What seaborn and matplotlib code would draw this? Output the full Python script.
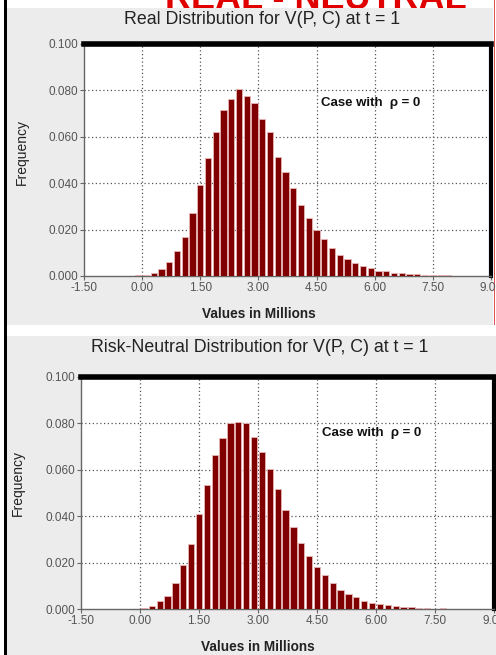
import matplotlib
matplotlib.use("Agg")
import matplotlib.pyplot as plt
from matplotlib.patches import Rectangle
import seaborn as sns
import pandas as pd

# ---- data (values in millions, bin centres 0.2 wide) ----
bin_centers = [-0.1, 0.1, 0.3, 0.5, 0.7, 0.9, 1.1, 1.3, 1.5, 1.7, 1.9, 2.1, 2.3, 2.5,
               2.7, 2.9, 3.1, 3.3, 3.5, 3.7, 3.9, 4.1, 4.3, 4.5, 4.7, 4.9, 5.1, 5.3,
               5.5, 5.7, 5.9, 6.1, 6.3, 6.5, 6.7, 6.9, 7.1, 7.3, 7.5, 7.7, 7.9]

real_freq = [0.0003, 0.0006, 0.0013, 0.0030, 0.0062, 0.0107, 0.0170, 0.0270, 0.0392,
             0.0510, 0.0622, 0.0715, 0.0762, 0.0805, 0.0776, 0.0744, 0.0678, 0.0620,
             0.0515, 0.0447, 0.0380, 0.0306, 0.0248, 0.0200, 0.0161, 0.0119, 0.0090,
             0.0072, 0.0056, 0.0041, 0.0033, 0.0023, 0.0022, 0.0012, 0.0011, 0.0009,
             0.0008, 0.0006, 0.0006, 0.0005, 0.0004]

neutral_freq = [0.0003, 0.0004, 0.0016, 0.0034, 0.0058, 0.0112, 0.0190, 0.0282, 0.0410,
                0.0535, 0.0665, 0.0735, 0.0800, 0.0806, 0.0800, 0.0742, 0.0676, 0.0603,
                0.0516, 0.0427, 0.0355, 0.0287, 0.0229, 0.0180, 0.0148, 0.0112, 0.0083,
                0.0066, 0.0052, 0.0037, 0.0028, 0.0024, 0.0019, 0.0013, 0.0010, 0.0009,
                0.0006, 0.0005, 0.0000, 0.0004, 0.0000]

x_ticks = [-1.5, 0.0, 1.5, 3.0, 4.5, 6.0, 7.5, 9.0]
x_tick_labels = ["-1.50", "0.00", "1.50", "3.00", "4.50", "6.00", "7.50", "9.00"]
y_ticks = [0.0, 0.02, 0.04, 0.06, 0.08, 0.10]
y_tick_labels = ["0.000", "0.020", "0.040", "0.060", "0.080", "0.100"]

titles = ["Real Distribution for V(P, C) at t = 1",
          "Risk-Neutral Distribution for V(P, C) at t = 1"]
annotation = "Case with  \u03c1 = 0"
xlabel = "Values in Millions"
ylabel = "Frequency"
heading = "REAL - NEUTRAL"

sns.set_theme(style="white")
plt.rcParams["font.family"] = ["Liberation Sans", "DejaVu Sans"]

W, H = 496, 655
fig = plt.figure(figsize=(W / 100, H / 100), dpi=100)
fig.patch.set_facecolor("white")

def fx(px):
    return px / W

def fy(py):
    return 1 - py / H

panel_gray = "#ECECEC"
# panel backgrounds (drawn above the cut-off heading so only its foot shows)
fig.add_artist(Rectangle((fx(7), fy(325)), fx(493 - 7), (325 - 8) / H,
                         transform=fig.transFigure, facecolor=panel_gray,
                         edgecolor="none", zorder=-10))
fig.add_artist(Rectangle((fx(7), fy(655)), fx(496 - 7), (655 - 336) / H,
                         transform=fig.transFigure, facecolor=panel_gray,
                         edgecolor="none", zorder=-10))
# left black border and right red line
fig.add_artist(Rectangle((fx(4), 0), fx(3), 1, transform=fig.transFigure,
                         facecolor="black", edgecolor="none", zorder=-5))
fig.add_artist(Rectangle((fx(493.5), fy(325)), fx(1.2), (325) / H,
                         transform=fig.transFigure, facecolor="#E05050",
                         edgecolor="none", zorder=-5))

# cut-off red heading at the very top (only its lower part is visible)
fig.text(fx(316), fy(9), heading, color="#E00000", fontsize=26,
         fontweight="bold", ha="center", va="baseline", zorder=-20)

axes_boxes = [
    (84, 491, 44, 276),
    (81, 494, 376.7, 609.3),
]
title_pos = [(262, 20), (260, 348)]
xlabel_pos = [(259, 314), (258, 647)]
ylabel_pos = [(22, 152), (18, 483)]
annot_y = [0.0745, 0.0758]
series = [real_freq, neutral_freq]

for i, (l, r, t, b) in enumerate(axes_boxes):
    ax = fig.add_axes([fx(l), fy(b), fx(r - l), (b - t) / H])
    df = pd.DataFrame({"value": bin_centers, "freq": series[i]})
    sns.barplot(data=df, x="value", y="freq", native_scale=True, width=0.8,
                color="#800000", saturation=1, edgecolor="#E8B8B8",
                linewidth=0.6, ax=ax, zorder=3)
    ax.set_facecolor("white")
    ax.set_xlim(-1.5, 9.0)
    ax.set_ylim(0, 0.1)
    ax.set_xticks(x_ticks)
    ax.set_xticklabels(x_tick_labels)
    ax.set_yticks(y_ticks)
    ax.set_yticklabels(y_tick_labels)
    ax.set_xlabel("")
    ax.set_ylabel("")
    ax.tick_params(axis="both", labelsize=8.5, colors="#666666", length=3,
                   width=0.8, pad=1, direction="out")
    ax.tick_params(axis="x", bottom=True, pad=1)
    ax.tick_params(axis="y", left=True)
    for lab in ax.get_xticklabels() + ax.get_yticklabels():
        lab.set_color("#555555")
    # dotted grid
    for xv in x_ticks[1:-1]:
        ax.axvline(xv, color="#555555", linestyle=(0, (1, 2)), linewidth=0.9, zorder=1)
    for yv in y_ticks[1:-1]:
        ax.axhline(yv, color="#555555", linestyle=(0, (1, 2)), linewidth=0.9, zorder=1)
    ax.grid(False)
    for side in ["left", "bottom"]:
        ax.spines[side].set_color("#666666")
        ax.spines[side].set_linewidth(1.0)
    ax.spines["top"].set_color("black")
    ax.spines["top"].set_linewidth(4.0)
    ax.spines["right"].set_color("black")
    ax.spines["right"].set_linewidth(3.0)
    ax.text(5.9, annot_y[i], annotation, fontsize=9.5,
            fontweight="bold", ha="center", va="center", color="#111111", zorder=5)

    fig.text(fx(title_pos[i][0]), fy(title_pos[i][1]), titles[i], fontsize=12.8,
             ha="center", va="center", color="#222222")
    fig.text(fx(xlabel_pos[i][0]), fy(xlabel_pos[i][1]), xlabel, fontsize=9.8,
             fontweight="bold", ha="center", va="center", color="#222222")
    fig.text(fx(ylabel_pos[i][0]), fy(ylabel_pos[i][1]), ylabel, fontsize=10,
             rotation=90, ha="center", va="center", color="#222222")

fig.savefig("out.png", dpi=100, facecolor=fig.get_facecolor())
